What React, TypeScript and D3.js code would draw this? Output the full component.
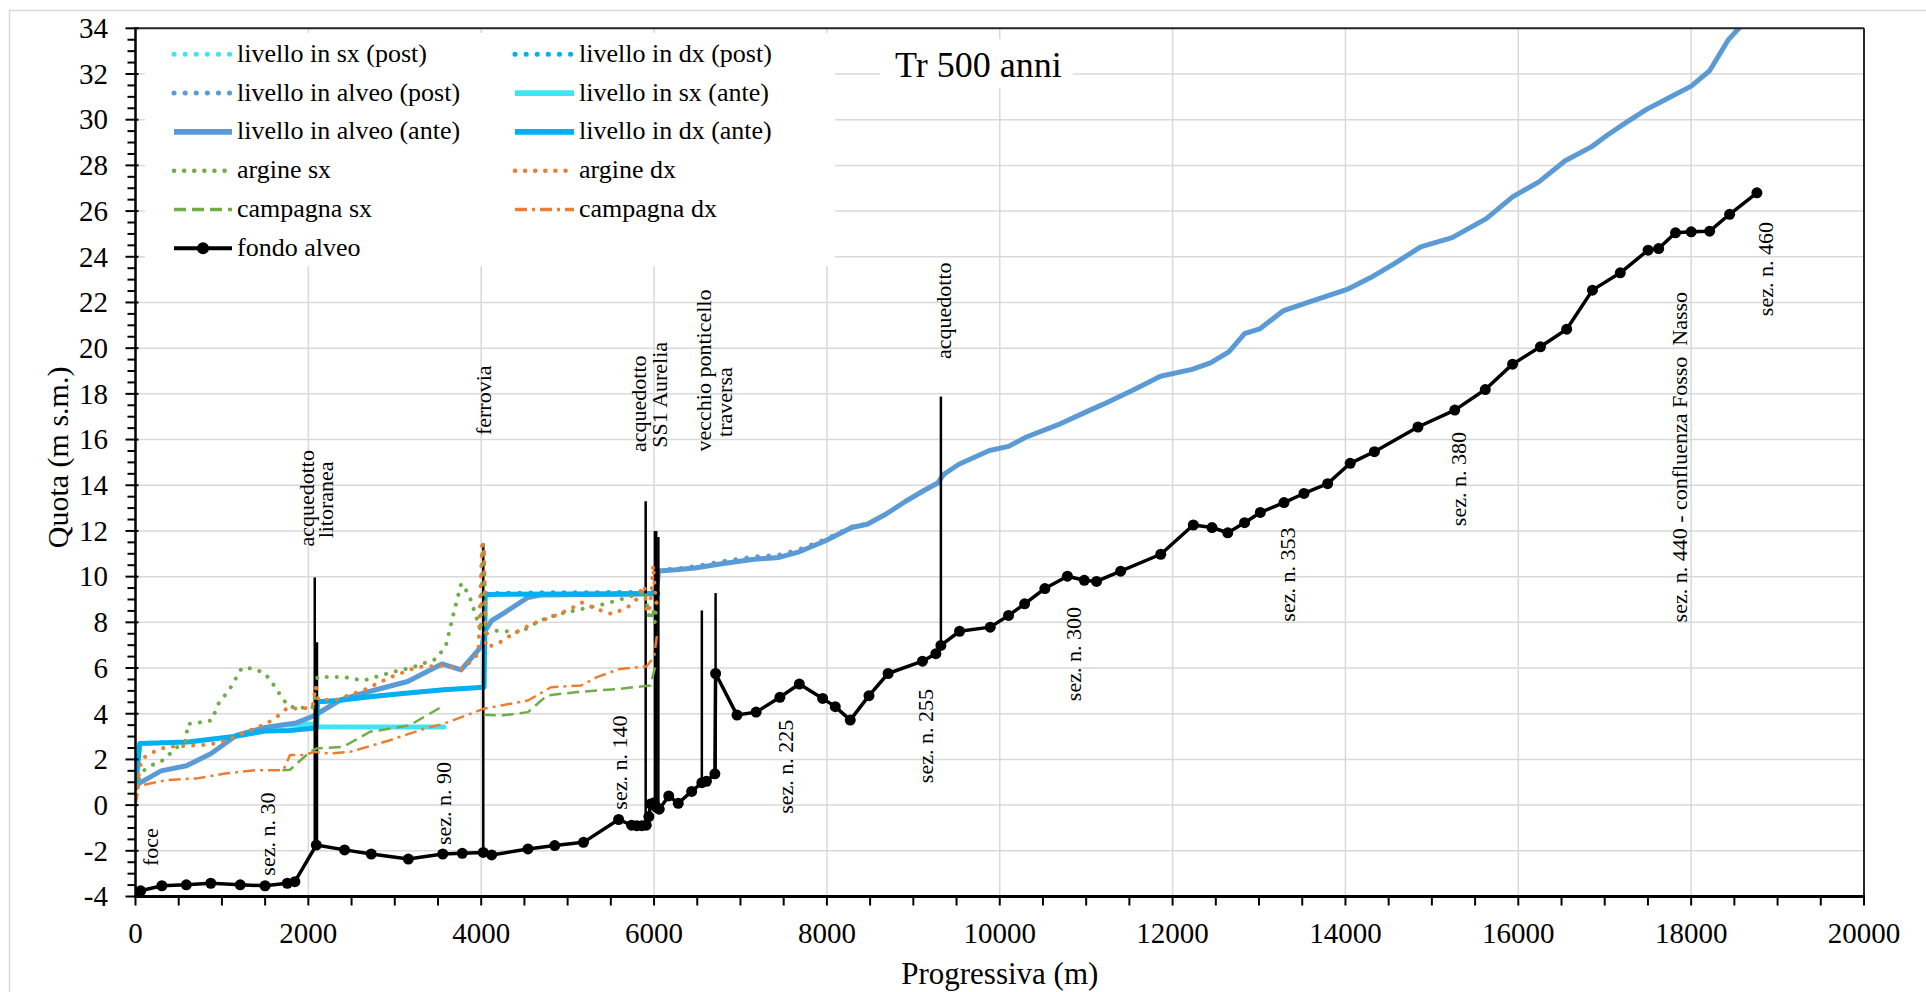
import React from 'react';
import * as d3 from 'd3';

type P = [number, number | null];

// ---------- DATA ----------
const xTicks = [0, 2000, 4000, 6000, 8000, 10000, 12000, 14000, 16000, 18000, 20000];
const yTicks = [-4, -2, 0, 2, 4, 6, 8, 10, 12, 14, 16, 18, 20, 22, 24, 26, 28, 30, 32, 34];

const sxPost: P[] = [[1680, 3.5], [2080, 3.55], [2110, 3.43], [2700, 3.42], [3570, 3.42]];
const dxPost: P[] = [[0, 0.75], [50, 2.7], [606, 2.76], [1136, 3.0], [1500, 3.24], [1780, 3.27], [2095, 3.38], [2105, 4.52], [2350, 4.58], [2684, 4.73], [3126, 4.9], [3568, 5.05], [4033, 5.16], [4046, 9.26], [4600, 9.3], [5300, 9.31], [6045, 9.32]];
const alveoPost: P[] = [[6053, 10.3], [6252, 10.34], [6473, 10.45], [6783, 10.66], [7137, 10.86], [7447, 10.95], [7668, 11.17], [7978, 11.62], [8288, 12.18], [8465, 12.3]];

const sxAnte: P[] = [[1680, 3.5], [2080, 3.55], [2110, 3.43], [2700, 3.42], [3570, 3.42]];
const alveoAnte: P[] = [[0, 0.87], [296, 1.5], [590, 1.72], [871, 2.25], [1165, 3.05], [1500, 3.4], [1860, 3.6], [2060, 3.9], [2370, 4.6], [2684, 4.95], [3149, 5.41], [3546, 6.18], [3768, 5.92], [4011, 6.98], [4040, 7.6], [4121, 8.07], [4276, 8.44], [4541, 9.09], [4700, 9.2], [5200, 9.22], [5700, 9.23], [6000, 9.25], [6030, 9.4], [6053, 10.25], [6252, 10.3], [6473, 10.38], [6783, 10.56], [7137, 10.75], [7447, 10.84], [7668, 11.07], [7978, 11.56], [8288, 12.15], [8465, 12.29], [8686, 12.74], [8907, 13.29], [9128, 13.78], [9283, 14.1], [9350, 14.47], [9527, 14.92], [9881, 15.52], [10102, 15.7], [10301, 16.1], [10677, 16.65], [10987, 17.19], [11200, 17.55], [11562, 18.2], [11860, 18.77], [12225, 19.07], [12438, 19.36], [12651, 19.84], [12833, 20.64], [13015, 20.86], [13277, 21.63], [13532, 21.96], [14019, 22.57], [14292, 23.09], [14566, 23.7], [14870, 24.43], [15235, 24.84], [15630, 25.67], [15934, 26.62], [16238, 27.28], [16542, 28.2], [16846, 28.81], [17028, 29.32], [17241, 29.86], [17484, 30.45], [17727, 30.93], [18001, 31.47], [18214, 32.14], [18427, 33.48], [18600, 34.2]];
const dxAnte: P[] = [[0, 0.75], [50, 2.7], [606, 2.76], [1136, 3.0], [1500, 3.24], [1780, 3.27], [2095, 3.38], [2105, 4.52], [2350, 4.58], [2684, 4.73], [3126, 4.9], [3568, 5.05], [4033, 5.16], [4046, 9.22], [5000, 9.24], [6045, 9.26]];

const argineSx: P[] = [[0, 0.3], [30, 1.1], [90, 1.5], [190, 1.75], [320, 1.97], [470, 2.5], [590, 2.85], [600, 3.55], [708, 3.6], [880, 3.7], [960, 4.44], [1094, 5.1], [1229, 6.0], [1364, 5.98], [1499, 5.76], [1615, 5.18], [1711, 4.6], [1788, 4.3], [2019, 4.24], [2060, 4.3], [2104, 5.6], [2405, 5.61], [2636, 5.45], [2950, 5.8], [3215, 6.04], [3480, 6.4], [3591, 6.98], [3679, 8.36], [3768, 9.7], [3856, 9.24], [3944, 8.22], [3995, 7.6], [4015, 11.4], [4030, 11.4], [4055, 7.5], [4188, 7.64], [4453, 7.56], [4674, 8.07], [4895, 8.36], [5161, 8.58], [5426, 8.8], [5691, 9.09], [5868, 9.3], [5900, 9.4], [5930, 8.4], [5960, 8.1], [5990, 8.6], [6010, 8.0], [6030, 9.0]];
const argineDx: P[] = [[0, 0.0], [20, 0.95], [70, 2.0], [167, 2.26], [360, 2.55], [630, 2.6], [862, 2.65], [1055, 2.84], [1287, 3.21], [1518, 3.57], [1634, 3.86], [1750, 4.23], [1943, 4.23], [2050, 4.3], [2085, 5.2], [2115, 4.6], [2328, 4.62], [2636, 5.03], [2950, 5.6], [3259, 6.04], [3568, 6.11], [3790, 5.96], [3967, 6.62], [4010, 11.4], [4030, 11.4], [4055, 6.91], [4188, 7.05], [4365, 7.49], [4586, 7.93], [4807, 8.22], [5029, 8.58], [5161, 8.87], [5338, 8.58], [5515, 8.36], [5691, 8.65], [5823, 9.09], [5860, 9.6], [5890, 9.55], [5910, 8.6], [5940, 8.4], [5970, 9.3], [5990, 10.5], [6010, 9.4], [6030, 8.8]];

const campagnaSx: P[] = [[1700, 1.53], [1788, 1.55], [2019, 2.33], [2096, 2.48], [2405, 2.55], [2713, 3.21], [2950, 3.35], [3171, 3.49], [3568, 4.36], [3800, null], [4030, 3.95], [4250, 3.93], [4541, 4.07], [4762, 4.8], [5117, 4.95], [5603, 5.09], [5957, 5.24], [6023, 6.18]];
const campagnaDx: P[] = [[0, 0.0], [40, 0.85], [360, 1.09], [708, 1.17], [1055, 1.39], [1402, 1.53], [1711, 1.53], [1788, 2.19], [1943, 2.19], [2077, 2.33], [2250, 2.26], [2481, 2.33], [2944, 2.84], [3347, 3.35], [3568, 3.56], [3878, 4.0], [4033, 4.22], [4232, 4.36], [4541, 4.58], [4807, 5.16], [5161, 5.24], [5338, 5.6], [5603, 5.96], [5912, 6.07], [6000, 6.47], [6035, 7.49]];

const fondoAlveo: P[] = [[0, -3.8], [60, -3.75], [305, -3.53], [588, -3.49], [871, -3.42], [1212, -3.49], [1499, -3.53], [1756, -3.42], [1844, -3.35], [2092, -1.75], [2419, -1.96], [2728, -2.14], [3157, -2.36], [3555, -2.14], [3781, -2.11], [4024, -2.07], [4121, -2.18], [4541, -1.92], [4851, -1.77], [5183, -1.63], [5590, -0.63], [5740, -0.88], [5800, -0.9], [5860, -0.9], [5910, -0.88], [5940, -0.5], [5960, 0.05], [6000, 0.1], [6030, -0.1], [6060, -0.18], [6170, 0.4], [6280, 0.08], [6435, 0.6], [6553, 0.98], [6606, 1.04], [6704, 1.37], [6712, 5.76], [6960, 3.94], [7181, 4.07], [7456, 4.72], [7681, 5.3], [7951, 4.67], [8097, 4.31], [8270, 3.72], [8487, 4.79], [8708, 5.76], [9106, 6.3], [9261, 6.63], [9319, 6.99], [9535, 7.61], [9890, 7.79], [10102, 8.3], [10288, 8.81], [10522, 9.48], [10783, 10.02], [10978, 9.84], [11120, 9.79], [11399, 10.24], [11863, 10.98], [12240, 12.26], [12456, 12.15], [12638, 11.92], [12833, 12.36], [13015, 12.81], [13289, 13.24], [13520, 13.64], [13794, 14.07], [14055, 14.96], [14335, 15.47], [14839, 16.55], [15265, 17.29], [15618, 18.19], [15934, 19.3], [16256, 20.06], [16560, 20.83], [16858, 22.54], [17180, 23.3], [17502, 24.29], [17624, 24.36], [17819, 25.05], [18001, 25.09], [18214, 25.12], [18445, 25.86], [18761, 26.8]];

// structures: progressive, bottom level, top level
const structures: [number, number, number][] = [[2074, -1.75, 9.96], [2100, -1.75, 7.13], [4024, -2.07, 11.4], [5903, -0.88, 13.3], [6010, 0.05, 12.0], [6025, -0.1, 12.0], [6050, -0.18, 11.74], [6553, 0.98, 8.52], [6712, 1.37, 9.28], [9319, 6.99, 17.88]];

// annotations: text, progressive, level (centre)
const annotations: [string, number, number][] = [
  ['foce', 168, -1.84],
  ['sez. n. 30', 1521, -1.27],
  ['acquedotto', 1980, 13.43],
  ['litoranea', 2200, 13.36],
  ['ferrovia', 4020, 17.72],
  ['sez. n. 90', 3558, 0.07],
  ['sez. n. 140', 5594, 1.86],
  ['acquedotto', 5817, 17.57],
  ['SS1 Aurelia', 6061, 17.96],
  ['vecchio ponticello', 6571, 19.02],
  ['traversa', 6815, 17.64],
  ['sez. n. 225', 7524, 1.68],
  ['acquedotto', 9343, 21.64],
  ['sez. n. 255', 9143, 3.02],
  ['sez. n. 300', 10847, 6.61],
  ['sez. n. 353', 13324, 10.09],
  ['sez. n. 380', 15302, 14.27],
  ['sez. n. 440 - confluenza Fosso  Nasso', 17864, 15.23],
  ['sez. n. 460', 18853, 23.46],
];

const seriesNames = ['livello in sx (post)', 'livello in dx (post)', 'livello in alveo (post)', 'livello in sx (ante)', 'livello in alveo (ante)', 'livello in dx (ante)', 'argine sx', 'argine dx', 'campagna sx', 'campagna dx', 'fondo alveo'];

// ---------- STYLES ----------
type Style = { color: string; width: number; dash?: string; cap?: 'round' | 'butt' };
const styles: Record<string, Style> = {
  'livello in sx (post)': { color: '#3fe6f2', width: 4.5, dash: '0.1 11', cap: 'round' },
  'livello in dx (post)': { color: '#00b0f0', width: 4.5, dash: '0.1 11', cap: 'round' },
  'livello in alveo (post)': { color: '#5b9bd5', width: 4.5, dash: '0.1 11', cap: 'round' },
  'livello in sx (ante)': { color: '#3fe6f2', width: 5 },
  'livello in alveo (ante)': { color: '#5b9bd5', width: 5 },
  'livello in dx (ante)': { color: '#00b0f0', width: 5 },
  'argine sx': { color: '#70ad47', width: 4, dash: '0.1 10', cap: 'round' },
  'argine dx': { color: '#ed7d31', width: 4, dash: '0.1 10', cap: 'round' },
  'campagna sx': { color: '#70ad47', width: 2.5, dash: '12 6', cap: 'butt' },
  'campagna dx': { color: '#ed7d31', width: 2.5, dash: '12 5 3 5', cap: 'butt' },
  'fondo alveo': { color: '#000000', width: 3.5 },
};

const FONT = '"Liberation Serif", "Times New Roman", serif';

export default function App() {
  const W = 1926, H = 992;
  const x = d3.scaleLinear().domain([0, 20000]).range([135.5, 1864]);
  const y = d3.scaleLinear().domain([-4, 34]).range([896.5, 28.3]);
  const line = d3.line<P>().defined(d => d[1] !== null).x(d => x(d[0])).y(d => y(d[1] as number));

  const dataByName: Record<string, P[]> = {
    'livello in sx (post)': sxPost,
    'livello in dx (post)': dxPost,
    'livello in alveo (post)': alveoPost,
    'livello in sx (ante)': sxAnte,
    'livello in alveo (ante)': alveoAnte,
    'livello in dx (ante)': dxAnte,
    'argine sx': argineSx,
    'argine dx': argineDx,
    'campagna sx': campagnaSx,
    'campagna dx': campagnaDx,
    'fondo alveo': fondoAlveo,
  };

  const [x0, x1] = x.range();
  const [yb, yt] = y.range();
  const xMinor = d3.range(0, 20001, 500);
  const yMinor = d3.range(-4, 34.01, 0.5);

  const renderSeries = (name: string) => {
    const s = styles[name];
    return (
      <path key={name} d={line(dataByName[name]) || ''} fill="none" stroke={s.color} strokeWidth={s.width}
        strokeDasharray={s.dash} strokeLinecap={s.cap || 'round'} strokeLinejoin="round" />
    );
  };

  const legendRow0 = 54.3, legendStep = 38.8;
  const legendCols = [{ sx0: 174, sx1: 232, tx: 237 }, { sx0: 515, sx1: 574, tx: 579 }];

  return (
    <svg width={W} height={H} viewBox={`0 0 ${W} ${H}`} style={{ position: 'absolute', left: 0, top: 0, background: '#fff' }}>
      <defs>
        <clipPath id="plot"><rect x={x0} y={yt} width={x1 - x0} height={yb - yt} /></clipPath>
      </defs>
      <rect width={W} height={H} fill="#fff" />
      {/* outer frame */}
      <line x1={9} x2={W} y1={10.5} y2={10.5} stroke="#d9d9d9" strokeWidth={1.5} />
      <line x1={9.5} x2={9.5} y1={10} y2={H} stroke="#d9d9d9" strokeWidth={1.5} />

      {/* gridlines */}
      {yTicks.map(t => <line key={'gy' + t} x1={x0} x2={x1} y1={y(t)} y2={y(t)} stroke="#d9d9d9" strokeWidth={1.5} />)}
      {xTicks.map(t => <line key={'gx' + t} x1={x(t)} x2={x(t)} y1={yt} y2={yb} stroke="#d9d9d9" strokeWidth={1.5} />)}

      <g clipPath="url(#plot)">
        {seriesNames.slice(0, 6).map(renderSeries)}
        {structures.map((s, i) => (
          <line key={'st' + i} x1={x(s[0])} x2={x(s[0])} y1={y(s[1])} y2={y(s[2])} stroke="#000" strokeWidth={2.5} />
        ))}
        {seriesNames.slice(6).map(renderSeries)}
        {fondoAlveo.map((d, i) => (
          <circle key={'fm' + i} cx={x(d[0])} cy={y(d[1] as number)} r={5.5} fill="#000" />
        ))}
      </g>

      {/* plot border & axes */}
      <line x1={x0} x2={x1} y1={yt} y2={yt} stroke="#262626" strokeWidth={2} />
      <line x1={x1} x2={x1} y1={yt} y2={yb} stroke="#262626" strokeWidth={2} />
      <line x1={x0} x2={x0} y1={yt - 1} y2={yb + 1} stroke="#000" strokeWidth={2.5} />
      <line x1={x0 - 1} x2={x1 + 1} y1={yb} y2={yb} stroke="#000" strokeWidth={3} />

      {/* y ticks */}
      {yMinor.map(t => {
        const major = Math.abs(t / 2 - Math.round(t / 2)) < 1e-6;
        return <line key={'ty' + t} x1={major ? x0 - 10 : x0 - 8} x2={major ? x0 + 3 : x0} y1={y(t)} y2={y(t)} stroke="#000" strokeWidth={2} />;
      })}
      {yTicks.map(t => (
        <text key={'ly' + t} x={108} y={y(t) + 9.8} textAnchor="end" fontFamily={FONT} fontSize={29} fill="#000">{t}</text>
      ))}
      {/* x ticks */}
      {xMinor.map(t => (
        <line key={'tx' + t} x1={x(t)} x2={x(t)} y1={yb} y2={yb + 9} stroke="#000" strokeWidth={2} />
      ))}
      {xTicks.map(t => (
        <text key={'lx' + t} x={x(t)} y={943} textAnchor="middle" fontFamily={FONT} fontSize={29} fill="#000">{t}</text>
      ))}

      {/* axis titles */}
      <text x={x(10000)} y={984} textAnchor="middle" fontFamily={FONT} fontSize={31} fill="#000">Progressiva (m)</text>
      <text transform={`translate(57,${(yt + yb) / 2 - 5}) rotate(-90)`} textAnchor="middle" dy="0.35em" fontFamily={FONT} fontSize={30} fill="#000">Quota (m s.m.)</text>

      {/* annotations */}
      {annotations.map((a, i) => (
        <text key={'an' + i} transform={`translate(${x(a[1])},${y(a[2])}) rotate(-90)`} textAnchor="middle" dy="0.35em"
          fontFamily={FONT} fontSize={22} fill="#000" style={{ whiteSpace: 'pre' }}>{a[0]}</text>
      ))}

      {/* legend */}
      <rect x={145} y={33} width={690} height={233} fill="#fff" />
      {seriesNames.map((name, i) => {
        const col = legendCols[i % 2];
        const cy = legendRow0 + Math.floor(i / 2) * legendStep;
        const s = styles[name];
        return (
          <g key={'lg' + i}>
            <line x1={col.sx0} x2={col.sx1} y1={cy} y2={cy} stroke={s.color} strokeWidth={name === 'fondo alveo' ? 4 : s.width + (s.dash && s.cap === 'round' ? 0.5 : 0.8)}
              strokeDasharray={s.dash} strokeLinecap={s.cap || 'butt'} />
            {name === 'fondo alveo' && <circle cx={(col.sx0 + col.sx1) / 2} cy={cy} r={6} fill="#000" />}
            <text x={col.tx} y={cy + 7.5} fontFamily={FONT} fontSize={26} fill="#000">{name}</text>
          </g>
        );
      })}

      {/* title */}
      <rect x={880} y={39} width={193} height={49} fill="#fff" />
      <text x={895} y={77} fontFamily={FONT} fontSize={36} fill="#000">Tr 500 anni</text>
    </svg>
  );
}
